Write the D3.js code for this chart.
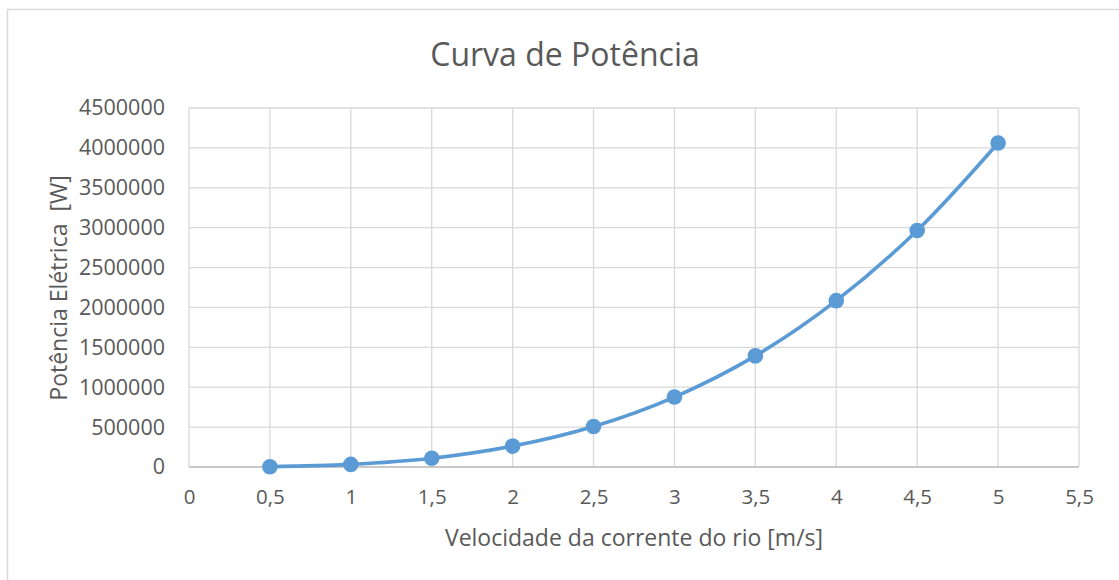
<!DOCTYPE html>
<html>
<head>
<meta charset="utf-8">
<script src="https://cdn.jsdelivr.net/npm/d3@7"></script>
<style>
  body { margin: 0; background: #fff; }
  svg text { font-family: "Open Sans", "Noto Sans", sans-serif; fill: #595959; }
</style>
</head>
<body>
<svg id="chart" width="1119" height="580"></svg>
<script>
// velocidade [m/s] e potencia [W]
var velocidade = [0.5, 1, 1.5, 2, 2.5, 3, 3.5, 4, 4.5, 5];
var potencia = [4000, 32500, 110000, 262000, 508000, 877000, 1393000, 2085000, 2965000, 4062000];
var xTicks = [0, 0.5, 1, 1.5, 2, 2.5, 3, 3.5, 4, 4.5, 5, 5.5];
var yTicks = [0, 500000, 1000000, 1500000, 2000000, 2500000, 3000000, 3500000, 4000000, 4500000];

var svg = d3.select("#chart");

// borda do grafico
svg.append("rect")
    .attr("x", 7.5).attr("y", 9.5)
    .attr("width", 1130).attr("height", 600)
    .attr("fill", "none").attr("stroke", "#d9d9d9").attr("stroke-width", 1.5);

var x = d3.scaleLinear().domain([0, 5.5]).range([189, 1079]);
var y = d3.scaleLinear().domain([0, 4500000]).range([467, 108]);

var fmt = function(d){ return String(d).replace(".", ","); };

// grade
var grid = svg.append("g");
grid.selectAll("line.h").data(yTicks).enter().append("line")
    .attr("x1", x(0)).attr("x2", x(5.5))
    .attr("y1", function(d){ return y(d); }).attr("y2", function(d){ return y(d); })
    .attr("stroke", "#d9d9d9").attr("stroke-width", 1.3);
grid.selectAll("line.v").data(xTicks).enter().append("line")
    .attr("y1", y(0)).attr("y2", y(4500000))
    .attr("x1", function(d){ return x(d); }).attr("x2", function(d){ return x(d); })
    .attr("stroke", "#d9d9d9").attr("stroke-width", 1.3);

// eixo x (linha base)
svg.append("line")
    .attr("x1", x(0)).attr("x2", x(5.5)).attr("y1", y(0)).attr("y2", y(0))
    .attr("stroke", "#bfbfbf").attr("stroke-width", 1.3);

// rotulos dos eixos
var xAxis = d3.axisBottom(x).tickValues(xTicks).tickFormat(fmt).tickSize(0).tickPadding(22);
var gx = svg.append("g").attr("transform", "translate(0," + y(0) + ")").call(xAxis);
gx.select(".domain").remove();
gx.selectAll("text").style("font-size", "20.5px").attr("fill", "#595959");

var yAxis = d3.axisLeft(y).tickValues(yTicks).tickFormat(d3.format("d")).tickSize(0).tickPadding(24);
var gy = svg.append("g").attr("transform", "translate(" + x(0) + ",0)").call(yAxis);
gy.select(".domain").remove();
gy.selectAll("text").style("font-size", "21.5px").attr("fill", "#595959");

// serie
var line = d3.line()
    .x(function(d, i){ return x(velocidade[i]); })
    .y(function(d){ return y(d); })
    .curve(d3.curveCatmullRom.alpha(0.5));

svg.append("path")
    .datum(potencia)
    .attr("d", line)
    .attr("fill", "none")
    .attr("stroke", "#5b9bd5")
    .attr("stroke-width", 3.6);

svg.selectAll("circle.pt").data(potencia).enter().append("circle")
    .attr("cx", function(d, i){ return x(velocidade[i]); })
    .attr("cy", function(d){ return y(d); })
    .attr("r", 7.8)
    .attr("fill", "#5b9bd5");

// titulos
svg.append("text")
    .attr("x", 565).attr("y", 66)
    .attr("text-anchor", "middle")
    .style("font-size", "32px")
    .text("Curva de Potência");

svg.append("text")
    .attr("x", 634).attr("y", 546)
    .attr("text-anchor", "middle")
    .style("font-size", "23px")
    .text("Velocidade da corrente do rio [m/s]");

svg.append("text")
    .attr("transform", "translate(67,288) rotate(-90)")
    .attr("text-anchor", "middle")
    .style("font-size", "23px")
    .style("white-space", "pre")
    .text("Potência Elétrica\u00a0\u00a0[W]");
</script>
</body>
</html>
